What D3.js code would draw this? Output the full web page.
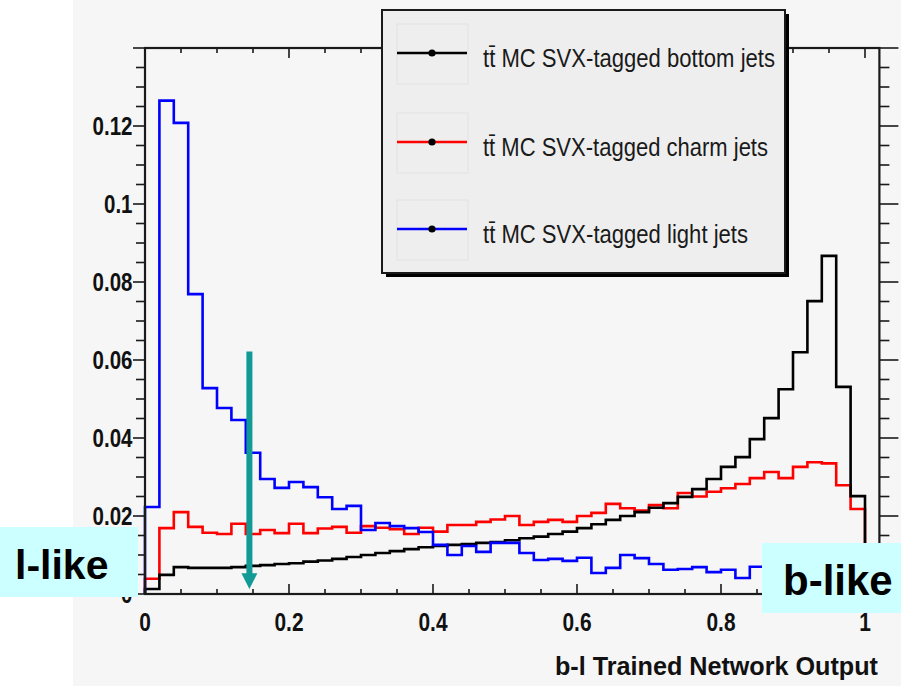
<!DOCTYPE html>
<html>
<head>
<meta charset="utf-8">
<script src="https://cdnjs.cloudflare.com/ajax/libs/d3/7.8.5/d3.min.js"></script>
<style>
body { margin: 0; background: #ffffff; }
svg { display: block; }
text { font-family: "Liberation Sans", Arial, Helvetica, sans-serif; }
</style>
</head>
<body>
<svg id="chart" width="901" height="686"></svg>
<script>
// bin width 0.02, 50 bins on [0,1]
var binWidth = 0.02;

var bottomJets = [0.0013, 0.0049, 0.0069, 0.0067, 0.0067, 0.0067, 0.0069, 0.0072, 0.0074, 0.0077,
  0.0079, 0.0083, 0.0086, 0.0090, 0.0095, 0.0100, 0.0105, 0.0110, 0.0115, 0.0120,
  0.0123, 0.0126, 0.0128, 0.0131, 0.0133, 0.0138, 0.0143, 0.0147, 0.0154, 0.0160,
  0.0169, 0.0179, 0.0190, 0.0200, 0.0210, 0.0221, 0.0233, 0.0249, 0.0269, 0.0295,
  0.0326, 0.0351, 0.0397, 0.0451, 0.0525, 0.0620, 0.0751, 0.0867, 0.0531, 0.0251];

var charmJets = [0.0039, 0.0169, 0.0210, 0.0172, 0.0157, 0.0154, 0.0180, 0.0154, 0.0164, 0.0156,
  0.0180, 0.0156, 0.0168, 0.0172, 0.0157, 0.0174, 0.0170, 0.0166, 0.0154, 0.0170,
  0.0160, 0.0177, 0.0177, 0.0185, 0.0191, 0.0200, 0.0177, 0.0185, 0.0190, 0.0185,
  0.0200, 0.0208, 0.0231, 0.0220, 0.0214, 0.0228, 0.0220, 0.0259, 0.0250, 0.0262,
  0.0271, 0.0282, 0.0297, 0.0313, 0.0297, 0.0326, 0.0338, 0.0335, 0.0279, 0.0218];

var lightJets = [0.0223, 0.1265, 0.1208, 0.0769, 0.0528, 0.0477, 0.0446, 0.0362, 0.0295, 0.0272,
  0.0287, 0.0274, 0.0248, 0.0218, 0.0226, 0.0164, 0.0182, 0.0174, 0.0169, 0.0159,
  0.0126, 0.0100, 0.0123, 0.0108, 0.0131, 0.0131, 0.0105, 0.0087, 0.0090, 0.0085,
  0.0093, 0.0054, 0.0067, 0.0100, 0.0092, 0.0077, 0.0062, 0.0064, 0.0069, 0.0056,
  0.0062, 0.0041, 0.0070, 0.0068, 0.0060, 0.0058, 0.0052, 0.0045, 0.0038, 0.0030];

var seriesNames = ["MC SVX-tagged bottom jets", "MC SVX-tagged charm jets", "MC SVX-tagged light jets"];
var seriesColors = ["#000000", "#ff0000", "#0000ff"];

var xTickLabels = ["0", "0.2", "0.4", "0.6", "0.8", "1"];
var yTickLabels = ["0", "0.02", "0.04", "0.06", "0.08", "0.1", "0.12"];

var svg = d3.select("#chart");

// pasted figure background
svg.append("rect")
  .attr("x", 73).attr("y", 0)
  .attr("width", 828).attr("height", 686)
  .attr("fill", "#f6f6f6");

var xScale = d3.scaleLinear().domain([0, 1.02]).range([145, 879.4]);
var yScale = d3.scaleLinear().domain([0, 0.14]).range([594, 48]);

var g = svg.append("g");

// histograms
var line = d3.line()
  .x(function(d) { return xScale(d[0]); })
  .y(function(d) { return yScale(d[1]); })
  .curve(d3.curveStepAfter);

function histPoints(vals) {
  var pts = [[0, 0]];
  vals.forEach(function(v, i) { pts.push([i * binWidth, v]); });
  pts.push([vals.length * binWidth, vals[vals.length - 1]]);
  pts.push([vals.length * binWidth, 0]);
  return pts;
}

var allSeries = [bottomJets, charmJets, lightJets];
// draw order: charm, bottom, light
[1, 0, 2].forEach(function(k) {
  g.append("path")
    .attr("d", line(histPoints(allSeries[k])))
    .attr("fill", "none")
    .attr("stroke", seriesColors[k])
    .attr("stroke-width", 2.6)
    .attr("stroke-linejoin", "miter");
});

// frame
var x0 = xScale.range()[0], x1 = xScale.range()[1];
var y0 = yScale.range()[0], y1 = yScale.range()[1];
g.append("rect")
  .attr("x", x0).attr("y", y1)
  .attr("width", x1 - x0).attr("height", y0 - y1)
  .attr("fill", "none")
  .attr("stroke", "#1a1a1a")
  .attr("stroke-width", 2.2);

var xt = d3.range(0, 21).map(function(i) { return i * 0.05; });
var yt = d3.range(0, 29).map(function(i) { return i * 0.005; });
function isMajor(v, step) { return Math.abs(v / step - Math.round(v / step)) < 1e-6; }

// bottom ticks (inward)
g.selectAll(".xb").data(xt).enter().append("line")
  .attr("x1", function(d) { return xScale(d); })
  .attr("x2", function(d) { return xScale(d); })
  .attr("y1", y0)
  .attr("y2", function(d) { return y0 - (isMajor(d, 0.2) ? 10 : 5); })
  .attr("stroke", "#1a1a1a").attr("stroke-width", 1.6);
// top ticks (inward)
g.selectAll(".xt").data(xt).enter().append("line")
  .attr("x1", function(d) { return xScale(d); })
  .attr("x2", function(d) { return xScale(d); })
  .attr("y1", y1)
  .attr("y2", function(d) { return y1 + (isMajor(d, 0.2) ? 10 : 5); })
  .attr("stroke", "#1a1a1a").attr("stroke-width", 1.6);
// left ticks (outward)
g.selectAll(".yl").data(yt).enter().append("line")
  .attr("y1", function(d) { return yScale(d); })
  .attr("y2", function(d) { return yScale(d); })
  .attr("x1", x0)
  .attr("x2", function(d) { return x0 - (isMajor(d, 0.02) ? 12 : 9); })
  .attr("stroke", "#1a1a1a").attr("stroke-width", 1.6);
// right ticks (outward)
g.selectAll(".yr").data(yt).enter().append("line")
  .attr("y1", function(d) { return yScale(d); })
  .attr("y2", function(d) { return yScale(d); })
  .attr("x1", x1)
  .attr("x2", function(d) { return x1 + (isMajor(d, 0.02) ? 19 : 10); })
  .attr("stroke", "#1a1a1a").attr("stroke-width", 1.6);

// tick labels
g.selectAll(".xl").data(xTickLabels).enter().append("text")
  .attr("transform", function(d) { return "translate(" + xScale(+d) + ",631) scale(0.82,1)"; })
  .attr("text-anchor", "middle")
  .attr("font-size", 25.5)
  .attr("font-weight", "bold")
  .attr("fill", "#111")
  .text(function(d) { return d; });

g.selectAll(".yl2").data(yTickLabels).enter().append("text")
  .attr("transform", function(d) { return "translate(132.5," + (yScale(+d) + 8.5) + ") scale(0.82,1)"; })
  .attr("text-anchor", "end")
  .attr("font-size", 25)
  .attr("font-weight", "bold")
  .attr("fill", "#111")
  .text(function(d) { return d; });

// axis title
g.append("text")
  .attr("x", 555).attr("y", 675)
  .attr("font-size", 25.5)
  .attr("font-weight", "bold")
  .attr("fill", "#111")
  .attr("textLength", 323)
  .attr("lengthAdjust", "spacingAndGlyphs")
  .text("b-l Trained Network Output");

// legend
var leg = svg.append("g");
leg.append("rect")
  .attr("x", 386).attr("y", 14).attr("width", 403).attr("height", 263)
  .attr("fill", "#000");
leg.append("rect")
  .attr("x", 382).attr("y", 10).attr("width", 403).attr("height", 263)
  .attr("fill", "#eeeeee")
  .attr("stroke", "#1a1a1a").attr("stroke-width", 2);

var rowY = [53, 142, 229];
var textLen = [292, 285, 265];
seriesNames.forEach(function(name, i) {
  leg.append("rect")
    .attr("x", 397).attr("y", rowY[i] - 29).attr("width", 71).attr("height", 60)
    .attr("fill", "none").attr("stroke", "#e2e2e2").attr("stroke-width", 1);
  leg.append("line")
    .attr("x1", 397).attr("x2", 467)
    .attr("y1", rowY[i]).attr("y2", rowY[i])
    .attr("stroke", seriesColors[i]).attr("stroke-width", 2.4);
  leg.append("circle")
    .attr("cx", 432).attr("cy", rowY[i]).attr("r", 3.6)
    .attr("fill", "#000");
  leg.append("text")
    .attr("x", 483).attr("y", rowY[i] + 13.5)
    .attr("font-size", 26)
    .attr("fill", "#1a1a1a")
    .attr("textLength", textLen[i])
    .attr("lengthAdjust", "spacingAndGlyphs")
    .text("tt\u0304 " + name);
});

// arrow annotation
var arrowX = xScale(0.145);
svg.append("line")
  .attr("x1", arrowX).attr("x2", arrowX)
  .attr("y1", yScale(0.0622)).attr("y2", yScale(0.005))
  .attr("stroke", "#119a96").attr("stroke-width", 6);
svg.append("path")
  .attr("d", "M" + (arrowX - 8) + "," + (yScale(0.0053)) + "L" + (arrowX + 8) + "," + yScale(0.0053) + "L" + arrowX + "," + yScale(0.0013) + "Z")
  .attr("fill", "#119a96");

// l-like / b-like boxes
svg.append("rect")
  .attr("x", 0).attr("y", 527).attr("width", 138).attr("height", 70)
  .attr("fill", "#ccffff");
svg.append("text")
  .attr("x", 15).attr("y", 579)
  .attr("font-size", 41)
  .attr("font-weight", "bold")
  .attr("fill", "#000")
  .text("l-like");

svg.append("rect")
  .attr("x", 762).attr("y", 543).attr("width", 139).attr("height", 70)
  .attr("fill", "#ccffff");
svg.append("text")
  .attr("x", 783).attr("y", 595)
  .attr("font-size", 42)
  .attr("font-weight", "bold")
  .attr("fill", "#000")
  .text("b-like");
</script>
</body>
</html>
